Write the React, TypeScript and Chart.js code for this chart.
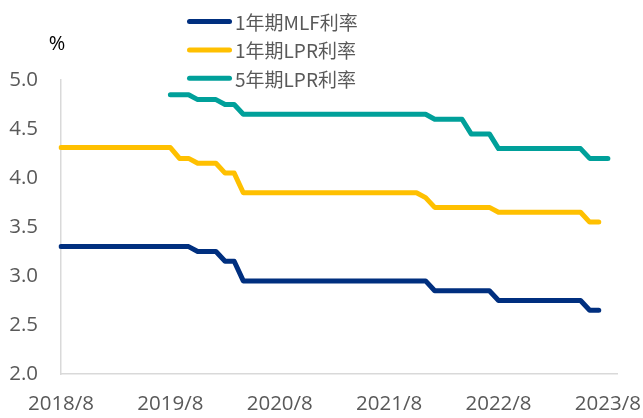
import React, { useEffect, useRef } from "react";
import { Chart, registerables } from "chart.js";

Chart.register(...registerables);

// Monthly categories from 2018/8 to 2023/9
const months: string[] = [];
for (let i = 0; i < 62; i++) {
  const m = 7 + i;
  months.push(`${2018 + Math.floor(m / 12)}/${(m % 12) + 1}`);
}
const tickLabels = ["2018/8", "2019/8", "2020/8", "2021/8", "2022/8", "2023/8"];
const seriesNames = ["1年期MLF利率", "1年期LPR利率", "5年期LPR利率"];
const seriesColors = ["#002F7F", "#FFC000", "#00A09A"];
const unitLabel = "%";

const mlf1y: (number | null)[] = [
  3.3, 3.3, 3.3, 3.3, 3.3, 3.3, 3.3, 3.3, 3.3, 3.3, 3.3, 3.3, 3.3, 3.3, 3.3,
  3.25, 3.25, 3.25,
  3.15, 3.15,
  2.95, 2.95, 2.95, 2.95, 2.95, 2.95, 2.95, 2.95, 2.95, 2.95, 2.95, 2.95, 2.95, 2.95, 2.95, 2.95, 2.95, 2.95, 2.95, 2.95, 2.95,
  2.85, 2.85, 2.85, 2.85, 2.85, 2.85, 2.85,
  2.75, 2.75, 2.75, 2.75, 2.75, 2.75, 2.75, 2.75, 2.75, 2.75,
  2.65, 2.65,
  null, null,
];

const lpr1y: (number | null)[] = [
  4.31, 4.31, 4.31, 4.31, 4.31, 4.31, 4.31, 4.31, 4.31, 4.31, 4.31, 4.31, 4.31,
  4.2, 4.2,
  4.15, 4.15, 4.15,
  4.05, 4.05,
  3.85, 3.85, 3.85, 3.85, 3.85, 3.85, 3.85, 3.85, 3.85, 3.85, 3.85, 3.85, 3.85, 3.85, 3.85, 3.85, 3.85, 3.85, 3.85, 3.85,
  3.8,
  3.7, 3.7, 3.7, 3.7, 3.7, 3.7, 3.7,
  3.65, 3.65, 3.65, 3.65, 3.65, 3.65, 3.65, 3.65, 3.65, 3.65,
  3.55, 3.55,
  null, null,
];

const lpr5y: (number | null)[] = [
  null, null, null, null, null, null, null, null, null, null, null, null,
  4.85, 4.85, 4.85,
  4.8, 4.8, 4.8,
  4.75, 4.75,
  4.65, 4.65, 4.65, 4.65, 4.65, 4.65, 4.65, 4.65, 4.65, 4.65, 4.65, 4.65, 4.65, 4.65, 4.65, 4.65, 4.65, 4.65, 4.65, 4.65, 4.65,
  4.6, 4.6, 4.6, 4.6,
  4.45, 4.45, 4.45,
  4.3, 4.3, 4.3, 4.3, 4.3, 4.3, 4.3, 4.3, 4.3, 4.3,
  4.2, 4.2, 4.2,
  null,
];

const TICK_FONT = "'Open Sans', 'Noto Sans', sans-serif";
const CJK_FONT = "'Noto Sans CJK SC', 'Open Sans', sans-serif";

const overlayPlugin = {
  id: "overlay",
  afterDraw(chart: any) {
    const ctx = chart.ctx as CanvasRenderingContext2D;
    const area = chart.chartArea;
    ctx.save();
    // unit label
    ctx.fillStyle = "#000000";
    ctx.font = `20px ${TICK_FONT}`;
    ctx.textAlign = "center";
    ctx.textBaseline = "middle";
    ctx.fillText(unitLabel, area.left - 4, area.top - 36);
    // legend
    const x0 = 189.5;
    const x1 = 229.5;
    chart.data.datasets.forEach((ds: any, i: number) => {
      const y = 21.5 + i * 28.4;
      ctx.strokeStyle = ds.borderColor;
      ctx.lineWidth = 5;
      ctx.lineCap = "round";
      ctx.beginPath();
      ctx.moveTo(x0, y);
      ctx.lineTo(x1, y);
      ctx.stroke();
      ctx.fillStyle = "#595959";
      ctx.font = `19px ${CJK_FONT}`;
      ctx.textAlign = "left";
      ctx.textBaseline = "middle";
      ctx.fillText(ds.label, 235, y + 1);
    });
    ctx.restore();
  },
};

export default function App() {
  const canvasRef = useRef<HTMLCanvasElement | null>(null);

  useEffect(() => {
    document.body.style.margin = "0";
    const canvas = canvasRef.current;
    if (!canvas) return;
    const seriesData = [mlf1y, lpr1y, lpr5y];
    const chart = new Chart(canvas, {
      type: "line",
      data: {
        labels: months,
        datasets: seriesNames.map((name, i) => ({
          label: name,
          data: seriesData[i],
          borderColor: seriesColors[i],
          backgroundColor: seriesColors[i],
          borderWidth: 5,
          borderCapStyle: "round",
          borderJoinStyle: "round",
          pointRadius: 0,
          pointHoverRadius: 0,
          tension: 0,
          fill: false,
          spanGaps: false,
        })),
      },
      options: {
        animation: false,
        responsive: true,
        maintainAspectRatio: false,
        layout: { padding: { top: 80, left: 8, right: 26, bottom: 0 } },
        plugins: {
          legend: { display: false },
          tooltip: { enabled: false },
        },
        scales: {
          x: {
            type: "category",
            offset: false,
            grid: { display: true, color: "rgba(0,0,0,0)", drawTicks: false },
            border: { display: true, color: "#D9D9D9", width: 1.5 },
            afterFit: (s: any) => {
              s.height = 44;
            },
            ticks: {
              autoSkip: false,
              maxRotation: 0,
              minRotation: 0,
              padding: 18,
              color: "#595959",
              font: { family: TICK_FONT, size: 20.5 },
              callback: (_v: any, idx: number) =>
                tickLabels.includes(months[idx]) ? months[idx] : "",
            },
          },
          y: {
            min: 2,
            max: 5,
            grid: { display: true, color: "rgba(0,0,0,0)", drawTicks: false },
            border: { display: true, color: "#D9D9D9", width: 1.5 },
            afterFit: (s: any) => {
              s.width = 53;
            },
            ticks: {
              stepSize: 0.5,
              padding: 23,
              color: "#595959",
              font: { family: TICK_FONT, size: 20.5 },
              callback: (v: any) => Number(v).toFixed(1),
            },
          },
        },
      },
      plugins: [overlayPlugin],
    });
    return () => chart.destroy();
  }, []);

  return (
    <div style={{ position: "relative", width: 643, height: 418 }}>
      <canvas ref={canvasRef} />
    </div>
  );
}
